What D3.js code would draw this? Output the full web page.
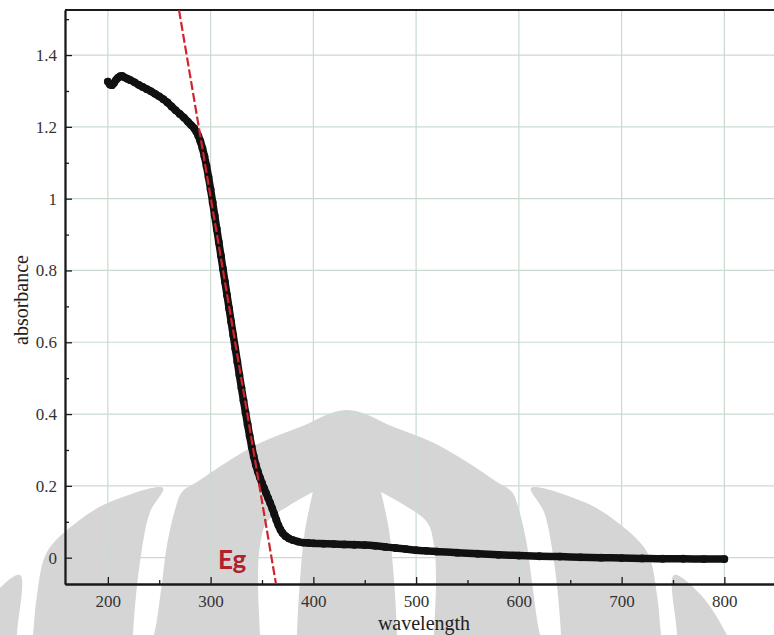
<!DOCTYPE html>
<html>
<head>
<meta charset="utf-8">
<script src="https://cdn.jsdelivr.net/npm/d3@7"></script>
<style>
  html, body { margin: 0; padding: 0; background: #fff; }
  svg { display: block; }
  .serif { font-family: "Liberation Serif", "Times New Roman", serif; }
</style>
</head>
<body>
<svg id="chart" width="774" height="635"></svg>
<script>
// UV-Vis absorbance spectrum with band-edge tangent
const wavelength = [
  200, 202, 204, 206, 208, 210, 212, 214, 216, 219, 222, 226, 230, 234, 238, 242, 246, 250,
  254, 258, 262, 266, 270, 274, 278, 281, 284, 286, 288, 290, 292, 294, 296, 298, 300,
  302, 304, 306, 308, 310, 312, 314, 316, 318, 320, 322, 324, 326, 328, 330, 332, 334,
  336, 338, 340, 342, 344, 346, 348, 350, 352, 354, 356, 358, 360, 362, 364, 366, 368,
  370, 373, 376, 380, 385, 390, 395, 400, 410, 420, 430, 440, 450, 460, 470, 480, 490,
  500, 510, 520, 540, 560, 580, 600, 620, 640, 660, 680, 700, 720, 740, 760, 780, 800
];
const absorbance = [
  1.326, 1.318, 1.316, 1.322, 1.331, 1.337, 1.341, 1.342, 1.338, 1.334, 1.330, 1.324, 1.317, 1.311, 1.305, 1.299, 1.292, 1.285,
  1.277, 1.268, 1.257, 1.246, 1.236, 1.226, 1.214, 1.205, 1.196, 1.187, 1.175, 1.160, 1.141, 1.118, 1.091, 1.060, 1.026,
  0.990, 0.953, 0.916, 0.879, 0.842, 0.805, 0.768, 0.731, 0.694, 0.657, 0.620, 0.583, 0.546, 0.509, 0.473, 0.438, 0.404,
  0.371, 0.339, 0.309, 0.282, 0.259, 0.240, 0.223, 0.208, 0.194, 0.180, 0.166, 0.152, 0.137, 0.121, 0.105, 0.090, 0.078,
  0.069, 0.060, 0.054, 0.049, 0.045, 0.042, 0.041, 0.040, 0.039, 0.038, 0.037, 0.036, 0.035, 0.033, 0.030, 0.027, 0.024,
  0.021, 0.019, 0.017, 0.014, 0.011, 0.008, 0.006, 0.004, 0.003, 0.001, 0.000, -0.001, -0.002, -0.003, -0.003, -0.004, -0.004
];

// Tangent drawn along the absorption edge; it meets zero at the band-gap wavelength
const tangentX = [269.3, 363.6];
const tangentY = [1.525, -0.073];
const edgeLabel = "Eg";

const xMajorTicks = [200, 300, 400, 500, 600, 700, 800];
const xMinorTicks = [250, 350, 450, 550, 650, 750];
const yMajorTicks = [0, 0.2, 0.4, 0.6, 0.8, 1, 1.2, 1.4];
const yMinorTicks = [0.1, 0.3, 0.5, 0.7, 0.9, 1.1, 1.3, 1.5];
const xTitle = "wavelength";
const yTitle = "absorbance";

const svg = d3.select("#chart");
const W = 774, H = 635;
const plot = { left: 65, right: 774, top: 10, bottom: 584 };

const x = d3.scaleLinear().domain([158.3, 848.3]).range([plot.left, plot.right]);
const y = d3.scaleLinear().domain([-0.0733, 1.5255]).range([plot.bottom, plot.top]);

svg.append("rect").attr("width", W).attr("height", H).attr("fill", "#fff");

// faint emblem behind the plot
const emblem = svg.append("g").attr("transform", "translate(347,410)");
const smooth = d3.line().curve(d3.curveCatmullRom.alpha(0.5));
const grey = "#d5d5d5";
const mirror = pts => pts.map(([a, b]) => [-a, b]);

const dome = [[-205,260],[-193,225],[-186,180],[-180,135],[-172,100],[-165,82],[-150,72],[-120,52],[-87,33],[-47,17],[0,0],
              [47,17],[87,33],[120,52],[150,72],[165,82],[172,100],[180,135],[186,180],[193,225],[205,260]];
const crescent = [[214,260],[214,225],[207,152],[197,102],[184,78],[237,92],[270,112],[300,142],[310,185],[314,225],[318,260]];
const band = [[330,260],[330,225],[327,165],[354,185],[380,225],[395,260]];
const gap = [[-34,82],[-57,95],[-80,112],[-87,135],[-89,170],[-87,225],[-86,260],[-50,260],[-50,225],[-47,170],[-42,120],[-34,82]];

emblem.append("path").attr("d", smooth(dome) + "Z").attr("fill", grey);
[crescent, mirror(crescent), band, mirror(band)].forEach(p =>
  emblem.append("path").attr("d", smooth(p) + "Z").attr("fill", grey));
[gap, mirror(gap)].forEach(p =>
  emblem.append("path").attr("d", smooth(p) + "Z").attr("fill", "#fff"));

// grid
const grid = svg.append("g").attr("stroke", "#c9dbcf").attr("stroke-width", 1.2);
grid.selectAll("line.v").data(xMajorTicks).join("line")
  .attr("x1", d => x(d)).attr("x2", d => x(d))
  .attr("y1", plot.top).attr("y2", plot.bottom);
grid.selectAll("line.h").data(yMajorTicks).join("line")
  .attr("x1", plot.left).attr("x2", plot.right)
  .attr("y1", d => y(d)).attr("y2", d => y(d));

// axes with inward ticks
const tickFont = g => {
  g.attr("font-family", null);
  g.selectAll("text").attr("class", "serif")
    .style("font-family", "'Liberation Serif', 'Times New Roman', serif")
    .style("font-size", "17px").attr("fill", "#333");
};
const axisStyle = g => {
  g.select(".domain").attr("stroke", "#1a1a1a").attr("stroke-width", 1.8);
  g.selectAll(".tick line").attr("stroke", "#1a1a1a").attr("stroke-width", 1.3);
};
const fmtY = d => String(+d.toFixed(1));

svg.append("g").attr("transform", `translate(0,${plot.bottom})`)
  .call(d3.axisBottom(x).tickValues(xMinorTicks).tickSize(-4).tickSizeOuter(0).tickFormat(""))
  .call(axisStyle);
svg.append("g").attr("transform", `translate(0,${plot.bottom})`)
  .call(d3.axisBottom(x).tickValues(xMajorTicks).tickSize(-7).tickSizeOuter(0).tickPadding(11))
  .call(axisStyle).call(tickFont);

svg.append("g").attr("transform", `translate(${plot.left},0)`)
  .call(d3.axisLeft(y).tickValues(yMinorTicks).tickSize(-4).tickSizeOuter(0).tickFormat(""))
  .call(axisStyle);
svg.append("g").attr("transform", `translate(${plot.left},0)`)
  .call(d3.axisLeft(y).tickValues(yMajorTicks).tickSize(-7).tickSizeOuter(0).tickPadding(8).tickFormat(fmtY))
  .call(axisStyle).call(tickFont);

// top frame
svg.append("line")
  .attr("x1", plot.left).attr("x2", plot.right)
  .attr("y1", plot.top).attr("y2", plot.top)
  .attr("stroke", "#1a1a1a").attr("stroke-width", 1.8);

// axis titles
svg.append("text")
  .attr("class", "serif")
  .attr("transform", `translate(28,${(plot.top + plot.bottom) / 2 + 3}) rotate(-90)`)
  .attr("text-anchor", "middle")
  .style("font-size", "20px").attr("fill", "#222")
  .text(yTitle);
svg.append("text")
  .attr("class", "serif")
  .attr("x", 424).attr("y", 630)
  .attr("text-anchor", "middle")
  .style("font-size", "20px").attr("fill", "#222")
  .text(xTitle);

// spectrum
const pts = wavelength.map((w, i) => ({ w, a: absorbance[i] }));
svg.append("clipPath").attr("id", "plot-clip")
  .append("rect").attr("x", plot.left).attr("y", plot.top)
  .attr("width", plot.right - plot.left).attr("height", plot.bottom - plot.top);

const layer = svg.append("g").attr("clip-path", "url(#plot-clip)");
layer.append("path")
  .datum(pts)
  .attr("d", d3.line().x(d => x(d.w)).y(d => y(d.a)).curve(d3.curveMonotoneX))
  .attr("fill", "none").attr("stroke", "#111").attr("stroke-width", 7.5)
  .attr("stroke-linejoin", "round").attr("stroke-linecap", "round");
layer.selectAll("circle").data(pts).join("circle")
  .attr("cx", d => x(d.w)).attr("cy", d => y(d.a)).attr("r", 3.9)
  .attr("fill", "#111");

// band-edge tangent
layer.append("line")
  .attr("x1", x(tangentX[0])).attr("y1", y(tangentY[0]))
  .attr("x2", x(tangentX[1])).attr("y2", y(tangentY[1]))
  .attr("stroke", "#d2232c").attr("stroke-width", 2.2)
  .attr("stroke-dasharray", "9,3");

svg.append("text")
  .attr("x", 218).attr("y", 569)
  .style("font-family", "Lato, 'Open Sans', sans-serif")
  .style("font-weight", 700).style("font-size", "26px")
  .attr("fill", "#b3202a")
  .text(edgeLabel);
</script>
</body>
</html>
